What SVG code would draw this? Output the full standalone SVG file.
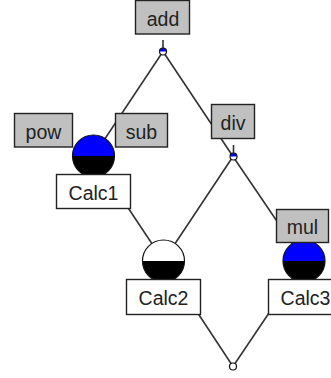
<svg xmlns="http://www.w3.org/2000/svg" width="331" height="378" viewBox="0 0 331 378">
<style>
.edge{stroke:#333;stroke-width:1.6;fill:none}
.op rect{fill:#c0c0c0;stroke:#222;stroke-width:1.4}
.calc rect{fill:#fff;stroke:#222;stroke-width:1.4}
text{font-family:"Liberation Sans",Arial,sans-serif;font-size:19.5px;fill:#222;text-anchor:middle}
.ring{fill:none;stroke:#111;stroke-width:1.2}
</style>
<rect width="331" height="378" fill="#fff"/>
<g id="connectors">
<line class="edge" x1="163" y1="51.5" x2="93.5" y2="156"/>
<line class="edge" x1="163" y1="51.5" x2="233" y2="156.5"/>
<line class="edge" x1="233" y1="156.5" x2="163.5" y2="261"/>
<line class="edge" x1="233" y1="156.5" x2="304" y2="261"/>
<line class="edge" x1="93.5" y1="156" x2="163.5" y2="261"/>
<line class="edge" x1="163.5" y1="261" x2="233" y2="366.5"/>
<line class="edge" x1="304" y1="261" x2="233" y2="366.5"/>
<line class="edge" x1="163" y1="40" x2="163" y2="48"/>
<line class="edge" x1="233.5" y1="145" x2="233.5" y2="153"/>
</g>
<g id="join-add">
<circle cx="163" cy="51.5" r="3.5" fill="#fff"/>
<path d="M159.5 51.5 A3.5 3.5 0 0 1 166.5 51.5 Z" fill="#0000ff"/>
<circle class="ring" cx="163" cy="51.5" r="3.5"/>
</g>
<g id="join-div">
<circle cx="233.5" cy="156.5" r="3.5" fill="#fff"/>
<path d="M230 156.5 A3.5 3.5 0 0 1 237 156.5 Z" fill="#0000ff"/>
<circle class="ring" cx="233.5" cy="156.5" r="3.5"/>
</g>
<g id="join-bottom">
<circle cx="233" cy="366.5" r="3.5" fill="#fff" stroke="#111" stroke-width="1.2"/>
</g>
<g id="node-calc1-state">
<path d="M72.5 156 A21 21 0 0 1 114.5 156 Z" fill="#0000ff"/>
<path d="M72.5 156 A21 21 0 0 0 114.5 156 Z" fill="#000"/>
<circle class="ring" cx="93.5" cy="156" r="21"/>
</g>
<g id="node-calc2-state">
<path d="M142.5 261 A21 21 0 0 1 184.5 261 Z" fill="#fff"/>
<path d="M142.5 261 A21 21 0 0 0 184.5 261 Z" fill="#000"/>
<circle class="ring" cx="163.5" cy="261" r="21"/>
</g>
<g id="node-calc3-state">
<path d="M283 261 A21 21 0 0 1 325 261 Z" fill="#0000ff"/>
<path d="M283 261 A21 21 0 0 0 325 261 Z" fill="#000"/>
<circle class="ring" cx="304" cy="261" r="21"/>
</g>
<g id="node-add" class="op"><rect x="135.5" y="0.5" width="54" height="33.5"/><text x="163" y="25.5">add</text></g>
<g id="node-pow" class="op"><rect x="14.5" y="113.5" width="58" height="33.5"/><text x="43.5" y="138.5">pow</text></g>
<g id="node-sub" class="op"><rect x="115.5" y="113.5" width="52" height="33.5"/><text x="141.5" y="138.5">sub</text></g>
<g id="node-div" class="op"><rect x="211.5" y="104.5" width="43" height="34"/><text x="233" y="129.5">div</text></g>
<g id="node-mul" class="op"><rect x="276.5" y="209.5" width="52" height="33"/><text x="302.5" y="234">mul</text></g>
<g id="node-calc1" class="calc"><rect x="56.5" y="174.5" width="74" height="34"/><text x="93.5" y="200">Calc1</text></g>
<g id="node-calc2" class="calc"><rect x="126.5" y="279.5" width="74" height="35"/><text x="163.5" y="305">Calc2</text></g>
<g id="node-calc3" class="calc"><rect x="268.5" y="279.5" width="74" height="35"/><text x="305.5" y="305">Calc3</text></g>
</svg>
